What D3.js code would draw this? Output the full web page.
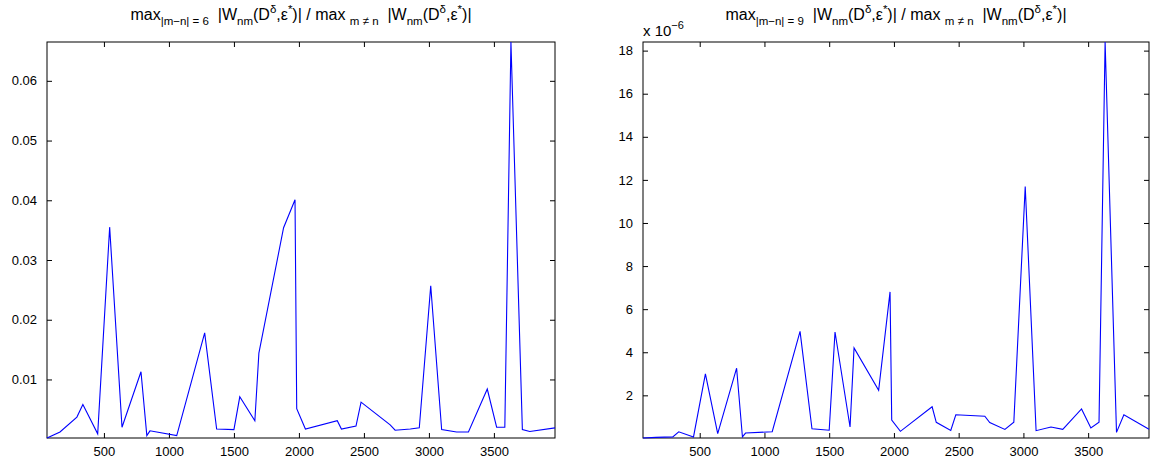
<!DOCTYPE html>
<html>
<head>
<meta charset="UTF-8">
<title>W_nm ratios</title>
<style>
    body { margin: 0; background: #fff; }
    svg { display: block; font-family: "Liberation Sans", Arial, sans-serif; }
    .axis path, .axis line { stroke: #000; }
    .axis text { font-size: 13px; fill: #000; }
    .line { fill: none; stroke: #0000ff; stroke-width: 1.1px; }
</style>
</head>
<body>
<svg width="1152" height="466"></svg>
<script src="https://d3js.org/d3.v7.min.js"></script>
<script>
const xs = [62, 162, 292, 338, 452, 544, 639, 785, 830, 854, 1060, 1275, 1367, 1500, 1545, 1661, 1692, 1882, 1970, 1983,
            2050, 2295, 2327, 2439, 2478, 2702, 2740, 2857, 2926, 3014, 3098, 3213, 3304, 3449, 3521, 3584, 3631, 3719, 3776, 3970];

const ratio6 = [0.0002, 0.0012, 0.0037, 0.0058, 0.0009, 0.0355, 0.0020, 0.0113, 0.0006, 0.0014, 0.0006, 0.0178, 0.0017, 0.0016,
                0.0071, 0.0031, 0.0144, 0.0354, 0.0401, 0.0051, 0.0017, 0.0031, 0.0017, 0.0022, 0.0062, 0.0024, 0.0015, 0.0017,
                0.0019, 0.0257, 0.0016, 0.0012, 0.0012, 0.0084, 0.0020, 0.0020, 0.0665, 0.0016, 0.0013, 0.0019];

// values in units of 1e-6
const ratio9 = [0.02, 0.05, 0.07, 0.31, 0.07, 3.0, 0.22, 3.26, 0.07, 0.25, 0.31, 4.97, 0.45, 0.38, 4.94, 0.53, 4.2, 2.23, 6.8, 0.85,
                0.33, 1.47, 0.75, 0.37, 1.1, 1.03, 0.74, 0.42, 0.75, 11.69, 0.36, 0.53, 0.42, 1.37, 0.49, 0.75, 18.4, 0.28, 1.1, 0.43];

const xTicks = [500, 1000, 1500, 2000, 2500, 3000, 3500];
const yTicks6 = [0.01, 0.02, 0.03, 0.04, 0.05, 0.06];
const yTicks9 = [2, 4, 6, 8, 10, 12, 14, 16, 18];

const title6 = [["max", ""], ["|m\u2212n| = 6", "sub"], ["  |W", ""], ["nm", "sub"], ["(D", ""], ["\u03b4", "sup"], [",\u03b5", ""], ["*", "sup"],
                [")| / max ", ""], ["m \u2260 n", "sub"], ["  |W", ""], ["nm", "sub"], ["(D", ""], ["\u03b4", "sup"], [",\u03b5", ""], ["*", "sup"], [")|", ""]];
const title9 = title6.map(d => d[0] === "|m\u2212n| = 6" ? ["|m\u2212n| = 9", "sub"] : d);

const svg = d3.select("svg");

function panel(left, right, values, yTicks, fmt, title) {
    const top = 42, bottom = 438;
    const x = d3.scaleLinear().domain(d3.extent(xs)).range([left, right]);
    const y = d3.scaleLinear().domain(d3.extent(values)).range([bottom, top]);
    const g = svg.append("g");

    g.append("g").attr("class", "axis").attr("transform", `translate(0,${bottom})`)
        .call(d3.axisBottom(x).tickValues(xTicks).tickSizeInner(-5).tickSizeOuter(0).tickPadding(9).tickFormat(d3.format("d")));
    g.append("g").attr("class", "axis").attr("transform", `translate(0,${top})`)
        .call(d3.axisTop(x).tickValues(xTicks).tickSizeInner(-5).tickSizeOuter(0).tickFormat(""));
    g.append("g").attr("class", "axis").attr("transform", `translate(${left},0)`)
        .call(d3.axisLeft(y).tickValues(yTicks).tickSizeInner(-5).tickSizeOuter(0).tickPadding(10).tickFormat(fmt));
    g.append("g").attr("class", "axis").attr("transform", `translate(${right},0)`)
        .call(d3.axisRight(y).tickValues(yTicks).tickSizeInner(-5).tickSizeOuter(0).tickFormat(""));
    g.selectAll(".axis .domain").remove();

    g.append("rect")
        .attr("x", left).attr("y", top).attr("width", right - left).attr("height", bottom - top)
        .attr("fill", "none").attr("stroke", "#000");

    g.append("path")
        .datum(values)
        .attr("class", "line")
        .attr("d", d3.line().x((d, i) => x(xs[i])).y(d => y(d)));

    const t = g.append("text")
        .attr("x", (left + right) / 2).attr("y", 20)
        .attr("text-anchor", "middle")
        .style("white-space", "pre")
        .style("font-size", "16px");
    let shift = 0;
    title.forEach(([s, kind]) => {
        const target = kind === "sub" ? 5 : kind === "sup" ? -7 : 0;
        t.append("tspan")
            .attr("dy", target - shift)
            .style("font-size", kind ? "11.5px" : "16px")
            .text(s);
        shift = target;
    });
}

panel(47, 555, ratio6, yTicks6, d3.format(".2f"), title6);
panel(643, 1149, ratio9, yTicks9, d3.format("d"), title9);

const mult = svg.append("text").attr("x", 643).attr("y", 36).style("font-size", "15px");
mult.append("tspan").text("x 10");
mult.append("tspan").attr("dy", -7).style("font-size", "11px").text("\u22126");
</script>
</body>
</html>
